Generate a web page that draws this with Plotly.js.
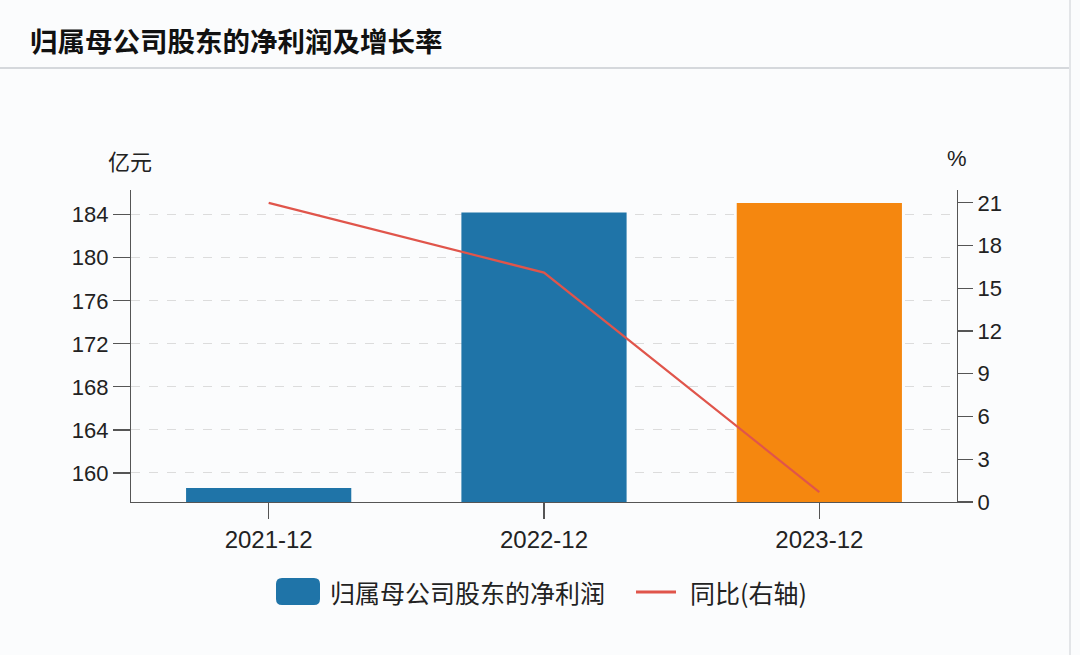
<!DOCTYPE html>
<html>
<head>
<meta charset="utf-8">
<script src="https://cdn.plot.ly/plotly-3.0.1.min.js"></script>
<style>
html,body{margin:0;padding:0;background:#fbfcfd;}
#chart{width:1080px;height:655px;}
</style>
</head>
<body>
<div id="chart"></div>
<script>
const categories = ['2021-12', '2022-12', '2023-12'];
const netProfit = [158.6, 184.2, 185.1];
const yoyGrowth = [21.0, 16.1, 0.7];
const leftTicks = [160, 164, 168, 172, 176, 180, 184];
const rightTicks = [0, 3, 6, 9, 12, 15, 18, 21];
const barColors = ['#1f74a8', '#1f74a8', '#f5870f'];
const seriesNames = ['归属母公司股东的净利润', '同比(右轴)'];

const FONT = '"Liberation Sans", Arial, "Noto Sans CJK SC", sans-serif';
const CJK = '"Noto Sans CJK SC", "Liberation Sans", sans-serif';

// plot area in pixels
const PL = 131, PR = 957, PT = 190, PB = 502;
const px = v => (v - PL) / (PR - PL);
const py = v => (PB - v) / (PB - PT);

const traces = [
  {
    type: 'bar', x: categories, y: netProfit, name: seriesNames[0],
    marker: {color: barColors}, width: 0.6, yaxis: 'y', hoverinfo: 'none'
  },
  {
    type: 'scatter', mode: 'lines', x: categories, y: yoyGrowth, name: seriesNames[1],
    line: {color: '#e0554b', width: 2.2}, yaxis: 'y2', hoverinfo: 'none'
  }
];

// rounded rect legend symbol
function roundRect(x0, y0, x1, y1, r) {
  const X = px, Y = py;
  const rx = r / (PR - PL), ry = r / (PB - PT);
  const a = X(x0), b = X(x1), t = Y(y0), u = Y(y1);
  return `M ${a+rx},${t} L ${b-rx},${t} Q ${b},${t} ${b},${t-ry} L ${b},${u+ry} Q ${b},${u} ${b-rx},${u} L ${a+rx},${u} Q ${a},${u} ${a},${u+ry} L ${a},${t-ry} Q ${a},${t} ${a+rx},${t} Z`;
}

const layout = {
  width: 1080, height: 655,
  paper_bgcolor: '#fbfcfd', plot_bgcolor: 'rgba(0,0,0,0)',
  margin: {l: PL, r: 1080 - PR, t: PT, b: 655 - PB},
  font: {family: FONT, size: 22, color: '#222'},
  showlegend: false,
  xaxis: {
    type: 'category', range: [-0.5, 2.5],
    showline: true, linecolor: '#555', linewidth: 1.2,
    ticks: 'outside', ticklen: 16, tickcolor: '#555', tickwidth: 1.2,
    showgrid: false, zeroline: false, tickfont: {size: 24, color: '#222'}
  },
  yaxis: {
    range: [157.3, 186.3], tickvals: leftTicks,
    showline: true, linecolor: '#555', linewidth: 1.2,
    ticks: 'outside', ticklen: 17, tickcolor: '#555', tickwidth: 1.2,
    showgrid: true, gridcolor: '#dcdcdc', griddash: 'dash', gridwidth: 1,
    zeroline: false, tickfont: {size: 22, color: '#222'}
  },
  yaxis2: {
    overlaying: 'y', side: 'right', range: [0, 21.9], tickvals: rightTicks,
    showline: true, linecolor: '#555', linewidth: 1.2,
    ticks: 'outside', ticklen: 15, tickcolor: '#555', tickwidth: 1.2,
    showgrid: false, zeroline: false, tickfont: {size: 22, color: '#222'}
  },
  shapes: [
    {type: 'line', xref: 'paper', yref: 'paper', x0: px(0), x1: px(1070), y0: py(68), y1: py(68),
     line: {color: '#d5d8dc', width: 2}},
    {type: 'line', xref: 'paper', yref: 'paper', x0: px(1070), x1: px(1070), y0: py(655), y1: py(0),
     line: {color: '#e3e5e8', width: 2}},
    {type: 'path', xref: 'paper', yref: 'paper', path: roundRect(276, 578, 320, 605, 6),
     fillcolor: barColors[0], line: {width: 0}},
    {type: 'line', xref: 'paper', yref: 'paper', x0: px(636), x1: px(676), y0: py(592), y1: py(592),
     line: {color: '#e0554b', width: 3}}
  ],
  annotations: [
    {text: '<b>归属母公司股东的净利润及增长率</b>', xref: 'paper', yref: 'paper',
     x: px(28), y: py(40), xanchor: 'left', yanchor: 'middle', showarrow: false,
     font: {family: CJK, size: 27.5, color: '#111'}},
    {text: '亿元', xref: 'paper', yref: 'paper', x: px(130), y: py(160), xanchor: 'center', yanchor: 'middle',
     showarrow: false, font: {family: CJK, size: 22, color: '#222'}},
    {text: '%', xref: 'paper', yref: 'paper', x: px(957), y: py(159), xanchor: 'center', yanchor: 'middle',
     showarrow: false, font: {family: FONT, size: 22, color: '#222'}},
    {text: seriesNames[0], xref: 'paper', yref: 'paper', x: px(328), y: py(592), xanchor: 'left', yanchor: 'middle',
     showarrow: false, font: {family: CJK, size: 25, color: '#222'}},
    {text: seriesNames[1], xref: 'paper', yref: 'paper', x: px(688), y: py(592), xanchor: 'left', yanchor: 'middle',
     showarrow: false, font: {family: CJK, size: 25, color: '#222'}}
  ]
};

Plotly.newPlot('chart', traces, layout, {displayModeBar: false, staticPlot: true});
</script>
</body>
</html>
